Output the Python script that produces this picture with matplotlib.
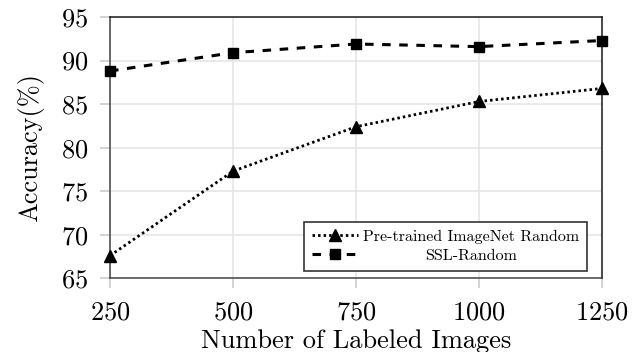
import matplotlib
matplotlib.use('Agg')
import matplotlib.pyplot as plt

labeled = [250, 500, 750, 1000, 1250]
imagenet_acc = [67.6, 77.3, 82.4, 85.3, 86.8]
ssl_acc = [88.8, 90.9, 91.9, 91.6, 92.3]
yticks = [65, 70, 75, 80, 85, 90, 95]

plt.rcParams['font.family'] = 'cmr10'
plt.rcParams['mathtext.fontset'] = 'cm'
plt.rcParams['axes.formatter.use_mathtext'] = True

fig = plt.figure(figsize=(6.37, 3.52), dpi=100)
ax = fig.add_axes([0.1727, 0.2094, 0.7724, 0.7423])

ax.plot(labeled, imagenet_acc, color='black', lw=2.0, linestyle=(0, (0.9, 1.1)),
        marker='^', markersize=8, clip_on=False, zorder=3,
        label='Pre-trained ImageNet Random')
ax.plot(labeled, ssl_acc, color='black', lw=2.2, linestyle=(0, (2.8, 2.8)),
        marker='s', markersize=7.5, clip_on=False, zorder=3,
        label='SSL-Random')

ax.set_xlim(250, 1250)
ax.set_ylim(65, 95)
ax.set_xticks(labeled)
ax.set_yticks(yticks)
ax.grid(True, color='#e4e4e4', lw=1.1)
ax.set_axisbelow(True)
ax.tick_params(direction='out', length=7.5, width=1.1, color='#c8c8c8',
               labelsize=19)
ax.tick_params(axis='y', pad=8)
ax.tick_params(axis='x', pad=9)
for side in ['left', 'bottom']:
    ax.spines[side].set_color('#444444')
for side in ['top', 'right']:
    ax.spines[side].set_color('#1a1a1a')
for s in ax.spines.values():
    s.set_linewidth(1.1)

ax.set_xlabel('Number of Labeled Images', fontsize=19, labelpad=3)
ax.set_ylabel('Accuracy(%)', fontsize=19, labelpad=12)

leg = ax.legend(loc='lower right', bbox_to_anchor=(0.97, 0.028), borderaxespad=0,
                fontsize=11.5, handlelength=2.9, handletextpad=0.3,
                labelspacing=0.3, borderpad=0.5, fancybox=False,
                edgecolor='#333333', framealpha=1)
leg.get_frame().set_linewidth(1.2)

# center the shorter legend label under the longer one
r = fig.canvas.get_renderer()
texts = leg.get_texts()
widths = [t.get_window_extent(r).width for t in texts]
wmax = max(widths)
for t, w in zip(texts, widths):
    t.set_x((wmax - w) / 2)

fig.savefig('out.png', dpi=100)
